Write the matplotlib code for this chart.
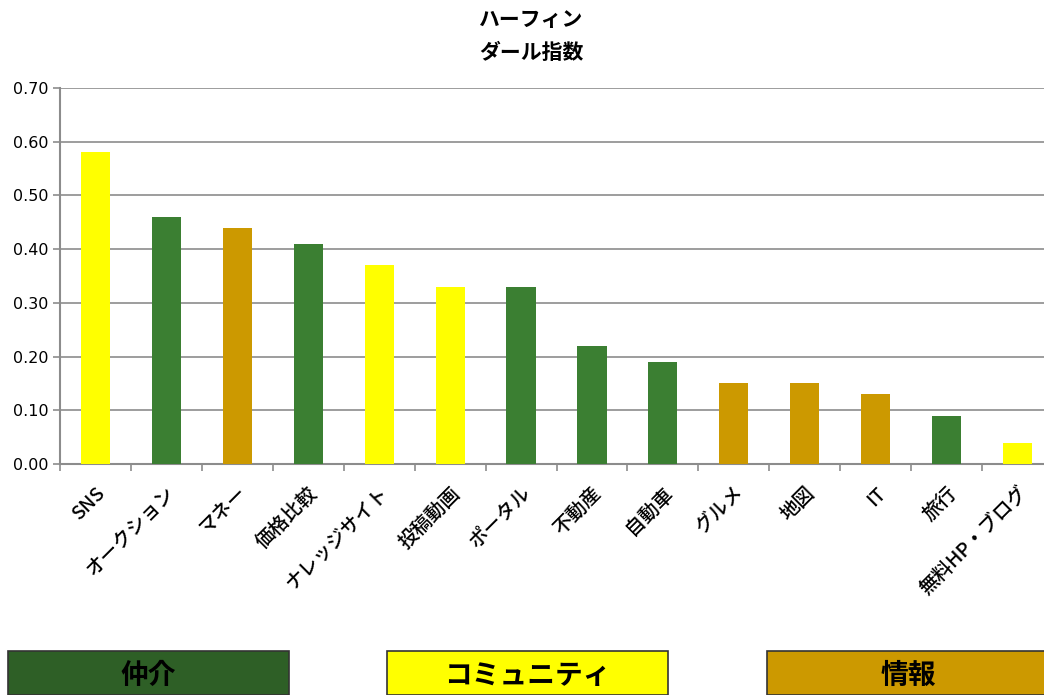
import matplotlib.pyplot as plt
from matplotlib.patches import Rectangle
import numpy as np

plt.rcParams['font.family'] = ['DejaVu Sans', 'Noto Sans CJK JP']

categories = ["SNS", "オークション", "マネー", "価格比較", "ナレッジサイト", "投稿動画",
              "ポータル", "不動産", "自動車", "グルメ", "地図", "IT", "旅行", "無料HP・ブログ"]
values = [0.58, 0.46, 0.44, 0.41, 0.37, 0.33, 0.33, 0.22, 0.19, 0.15, 0.15, 0.13, 0.09, 0.04]
groups = ["community", "broker", "info", "broker", "community", "community",
          "broker", "broker", "broker", "info", "info", "info", "broker", "community"]

GROUP_COLORS = {"broker": "#3B7F32", "community": "#FFFF00", "info": "#CC9900"}
LEGEND_ITEMS = [("仲介", "#2E5F26", 8, 289), ("コミュニティ", "#FFFF00", 387, 668), ("情報", "#CC9900", 767, 1050)]

W, H = 1044, 695
fig = plt.figure(figsize=(W / 100, H / 100), dpi=100)
ax = fig.add_axes([60 / W, 1 - 464 / H, (1053 - 60) / W, (464 - 88) / H])

x = np.arange(len(categories))
ax.bar(x, values, width=0.41, color=[GROUP_COLORS[g] for g in groups], zorder=3)

ax.set_xlim(-0.5, len(categories) - 0.5)
ax.set_ylim(0, 0.70)
ax.set_yticks(np.arange(0, 0.71, 0.1))
ax.set_yticklabels([f"{v:.2f}" for v in np.arange(0, 0.71, 0.1)], fontsize=11.5)
ax.yaxis.grid(True, color="#8c8c8c", linewidth=1.2, zorder=0)

ax.set_xticks(np.arange(-0.5, len(categories), 1.0))
ax.set_xticklabels([])
ax.set_xticks(x, minor=True)
ax.set_xticklabels(categories, minor=True, rotation=45, ha="right",
                   rotation_mode="anchor", fontsize=14, fontweight="medium",
                   family=["Noto Sans CJK JP", "DejaVu Sans"])
ax.tick_params(axis="x", which="major", length=5, color="#8c8c8c", width=1.2)
ax.tick_params(axis="x", which="minor", length=0, pad=14)
ax.tick_params(axis="y", length=5, color="#8c8c8c", width=1.2)

for side in ["top", "right"]:
    ax.spines[side].set_visible(False)
for side in ["left", "bottom"]:
    ax.spines[side].set_color("#8c8c8c")
    ax.spines[side].set_linewidth(1.5)

fig.text(531 / W, 1 - 36 / H, "ハーフィン\nダール指数", ha="center", va="center",
         fontsize=15, fontweight="bold", family="Noto Sans CJK JP", linespacing=1.65)

for label, color, x0, x1 in LEGEND_ITEMS:
    fig.patches.append(Rectangle((x0 / W, 0), (x1 - x0) / W, (H - 651) / H,
                                 transform=fig.transFigure, facecolor=color,
                                 edgecolor="#333333", linewidth=1.2))
    fig.text((x0 + x1) / 2 / W, 1 - 676 / H, label, ha="center", va="center",
             fontsize=20, fontweight="bold", family="Noto Sans CJK JP")

fig.savefig("out.png", dpi=100)
